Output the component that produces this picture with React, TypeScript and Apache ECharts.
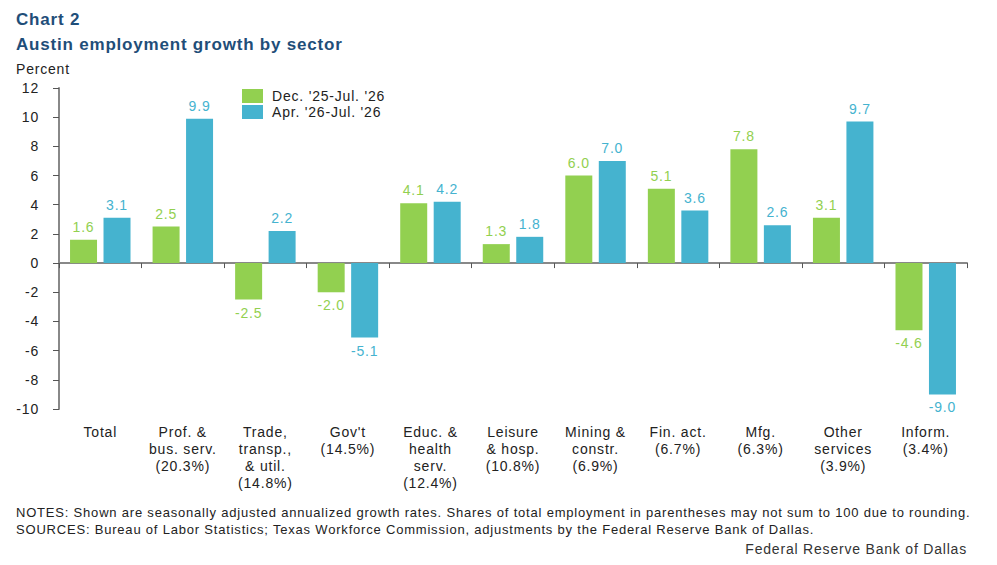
import React, { useEffect, useRef } from "react";
import * as echarts from "echarts";

const categories = [
  "Total",
  "Prof. &\nbus. serv.\n(20.3%)",
  "Trade,\ntransp.,\n& util.\n(14.8%)",
  "Gov't\n(14.5%)",
  "Educ. &\nhealth\nserv.\n(12.4%)",
  "Leisure\n& hosp.\n(10.8%)",
  "Mining &\nconstr.\n(6.9%)",
  "Fin. act.\n(6.7%)",
  "Mfg.\n(6.3%)",
  "Other\nservices\n(3.9%)",
  "Inform.\n(3.4%)",
];
const decJul = [1.6, 2.5, -2.5, -2.0, 4.1, 1.3, 6.0, 5.1, 7.8, 3.1, -4.6];
const aprJul = [3.1, 9.9, 2.2, -5.1, 4.2, 1.8, 7.0, 3.6, 2.6, 9.7, -9.0];
const seriesNames = ["Dec. '25-Jul. '26", "Apr. '26-Jul. '26"];

const FONT = "'Liberation Sans', Arial, sans-serif";
const GREEN = "#92d050";
const BLUE = "#45b3cf";
const TITLE = "#1f4e79";

export default function App() {
  const ref = useRef<HTMLDivElement>(null);
  useEffect(() => {
    document.body.style.margin = "0";
    const chart = echarts.init(ref.current!, null, { renderer: "svg" });
    const mkLabel = (color: string) => ({
      show: true,
      position: "top",
      color,
      fontSize: 14,
      fontFamily: FONT,
      distance: 6,
      formatter: (p: any) => p.value.toFixed(1),
    });
    const mkData = (arr: number[]) =>
      arr.map((v) => ({
        value: v,
        label: { position: v < 0 ? "bottom" : "top" },
      }));
    chart.setOption({
      animation: false,
      textStyle: { fontFamily: FONT },
      grid: { left: 59, right: 30, top: 88, bottom: 156, containLabel: false },
      legend: {
        left: 242,
        top: 89,
        padding: 0,
        orient: "vertical",
        itemWidth: 21,
        itemHeight: 14,
        itemGap: 2,
        icon: "rect",
        textStyle: {
          fontSize: 14,
          lineHeight: 14,
          color: "#222",
          fontFamily: FONT,
          padding: [0, 0, 0, 4],
        },
        data: seriesNames,
      },
      xAxis: [
        {
          type: "category",
          data: categories,
          axisLine: { onZero: true, lineStyle: { color: "#888", width: 2 } },
          axisTick: { show: true, interval: 0, length: 5, lineStyle: { color: "#555" } },
          axisLabel: { show: false },
        },
        {
          type: "category",
          data: categories,
          position: "bottom",
          axisLine: { show: false },
          axisTick: { show: false },
          axisLabel: {
            interval: 0,
            margin: 14,
            fontSize: 14,
            lineHeight: 17,
            color: "#222",
            fontFamily: FONT,
            align: "center",
          },
        },
      ],
      yAxis: {
        type: "value",
        min: -10,
        max: 12,
        interval: 2,
        axisLine: { show: true, lineStyle: { color: "#888", width: 2 } },
        axisTick: { show: true, length: 6, lineStyle: { color: "#555" } },
        splitLine: { show: false },
        axisLabel: { fontSize: 14, color: "#222", margin: 20, fontFamily: FONT },
      },
      series: [
        {
          name: seriesNames[0],
          type: "bar",
          xAxisIndex: 0,
          data: mkData(decJul),
          itemStyle: { color: GREEN },
          barWidth: 27,
          barGap: "24%",
          label: mkLabel(GREEN),
        },
        {
          name: seriesNames[1],
          type: "bar",
          xAxisIndex: 0,
          data: mkData(aprJul),
          itemStyle: { color: BLUE },
          barWidth: 27,
          barGap: "24%",
          label: mkLabel(BLUE),
        },
      ],
      graphic: [
        {
          type: "text",
          left: 16,
          top: 11,
          style: { text: "Chart 2", font: `bold 17px ${FONT}`, fill: TITLE },
        },
        {
          type: "text",
          left: 16,
          top: 36,
          style: { text: "Austin employment growth by sector", font: `bold 17px ${FONT}`, fill: TITLE },
        },
        {
          type: "text",
          left: 16,
          top: 62,
          style: { text: "Percent", font: `14px ${FONT}`, fill: "#222" },
        },
        {
          type: "text",
          left: 16,
          top: 506,
          style: {
            text:
              "NOTES: Shown are seasonally adjusted annualized growth rates. Shares of total employment in parentheses may not sum to 100 due to rounding.",
            font: `13px ${FONT}`,
            fill: "#222",
          },
        },
        {
          type: "text",
          left: 16,
          top: 523,
          style: {
            text:
              "SOURCES: Bureau of Labor Statistics; Texas Workforce Commission, adjustments by the Federal Reserve Bank of Dallas.",
            font: `13px ${FONT}`,
            fill: "#222",
          },
        },
        {
          type: "text",
          x: 967,
          y: 549,
          style: {
            text: "Federal Reserve Bank of Dallas",
            font: `14px ${FONT}`,
            fill: "#333",
            textAlign: "right",
            textVerticalAlign: "middle",
          },
        },
      ],
    });
    return () => chart.dispose();
  }, []);
  return (
    <div
      ref={ref}
      style={{
        position: "absolute",
        left: 0,
        top: 0,
        width: 997,
        height: 565,
        background: "#fff",
        letterSpacing: "0.8px",
      }}
    />
  );
}
